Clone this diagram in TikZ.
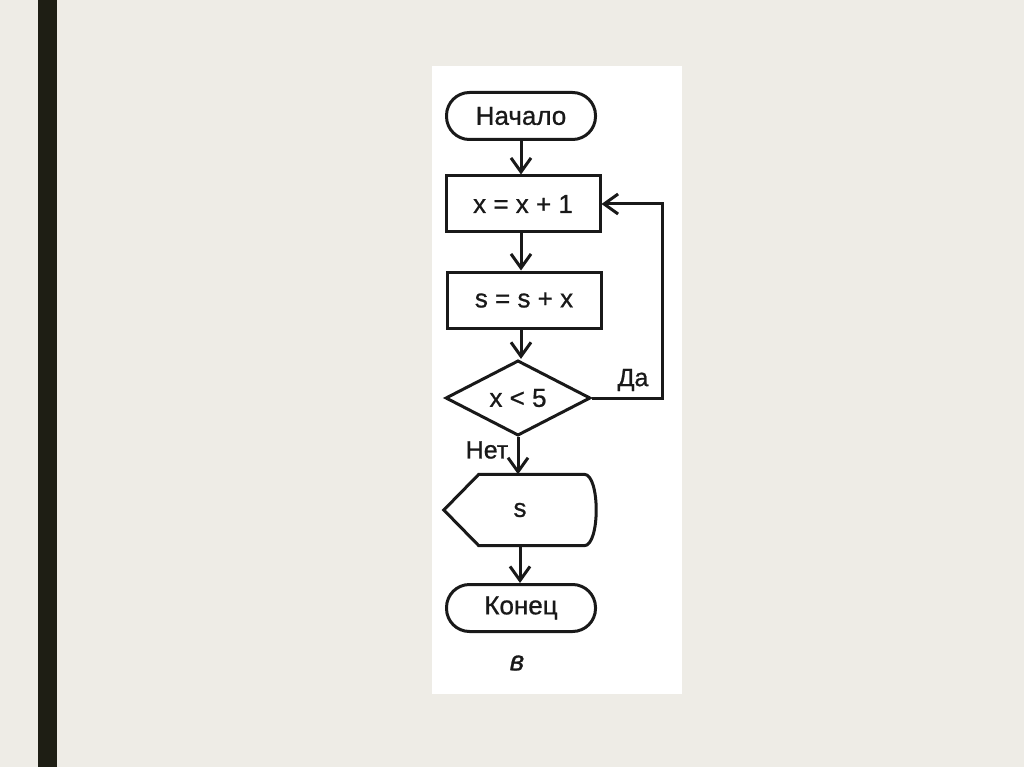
\documentclass[tikz,border=0pt]{standalone}
\usepackage{fontspec}
\setmainfont{Liberation Sans}
\newfontfamily\medfont{Liberation Sans}[FakeBold=0.8]
\usetikzlibrary{arrows.meta,shapes.geometric}
\definecolor{bgc}{RGB}{238,236,230}
\definecolor{barc}{RGB}{30,30,20}
\definecolor{ink}{RGB}{25,25,25}
\begin{document}
\begin{tikzpicture}[x=1pt,y=-1pt,
  every node/.style={font=\medfont\fontsize{26}{28}\selectfont, text=ink},
  line/.style={draw=ink, line width=3pt},
  arr/.style={line, -{Straight Barb[length=14pt,width=20pt,line width=3pt]}},
  term/.style={line, rectangle, rounded corners=23pt, minimum width=149pt, minimum height=47pt, inner sep=0pt},
  proc/.style={line, rectangle, minimum width=154pt, minimum height=56pt, inner sep=0pt},
  cond/.style={line, diamond, minimum width=145pt, minimum height=71pt, inner sep=0pt},
  lbl/.style={font=\medfont\fontsize{25}{28}\selectfont}
]
\useasboundingbox (0,0) rectangle (1024,767);
\fill[bgc] (0,0) rectangle (1024,767);
\fill[barc] (38,0) rectangle (57,767);
\fill[white] (432,66) rectangle (682,694);

\node[term] (start) at (521,116) {Начало};
\node[proc] (inc) at (523,204) {x = x + 1};
\node[proc] (sum) at (524,300) {s = s + x};
\node[cond] (cmp) at (518,398) {x < 5};
\node[minimum width=152pt, minimum height=71pt, inner sep=0pt] (disp) at (520,510) {s};
\draw[line] (disp.north west) ++(35,0) coordinate (d1) -- ([xshift=-12pt]disp.north east) coordinate (d2)
  .. controls ([xshift=4pt]disp.north east) and ([xshift=4pt]disp.south east) .. ([xshift=-12pt]disp.south east)
  -- ([xshift=35pt]disp.south west) -- (disp.west) -- cycle;
\node[term] (end) at (521,608) {Конец};
\node[lbl] (yes) at (633,380) {Да};
\node[lbl] (no) at (487,450) {Нет};
\node[font=\medfont\fontsize{28}{30}\selectfont\itshape] (cap) at (517,663) {в};
\coordinate (loopR) at (662,398);

\draw[arr] (start.south) -- (start.south |- inc.north);
\draw[arr] (inc.south -| start.south) -- (start.south |- sum.north);
\draw[arr] (sum.south -| start.south) -- (start.south |- cmp.north);
\draw[arr] (cmp.south) -- (cmp.south |- disp.north);
\draw[arr] (disp.south) -- (disp.south |- end.north);
\draw[arr] (cmp.east) -- (loopR) |- (inc.east);
\end{tikzpicture}
\end{document}
